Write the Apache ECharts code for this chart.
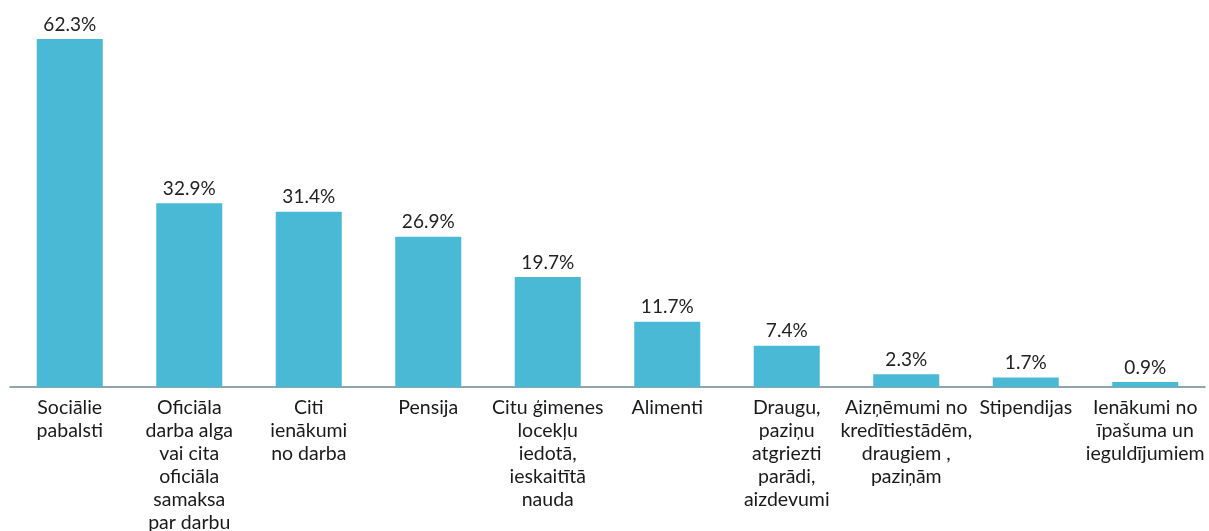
<!DOCTYPE html>
<html>
<head>
<meta charset="utf-8">
<style>
  html, body { margin: 0; padding: 0; background: #fff; }
  #chart { width: 1209px; height: 531px; }
</style>
<script src="https://cdn.jsdelivr.net/npm/echarts@6/dist/echarts.min.js"></script>
</head>
<body>
<div id="chart"></div>
<script>
const categories = [
  'Sociālie\npabalsti',
  'Oficiāla\ndarba alga\nvai cita\noficiāla\nsamaksa\npar darbu',
  'Citi\nienākumi\nno darba',
  'Pensija',
  'Citu ģimenes\nlocekļu\niedotā,\nieskaitītā\nnauda',
  'Alimenti',
  'Draugu,\npaziņu\natgriezti\nparādi,\naizdevumi',
  'Aizņēmumi no\nkredītiestādēm,\ndraugiem ,\npaziņām',
  'Stipendijas',
  'Ienākumi no\nīpašuma un\nieguldījumiem'
]
const values = [62.3, 32.9, 31.4, 26.9, 19.7, 11.7, 7.4, 2.3, 1.7, 0.9]

const chart = echarts.init(document.getElementById('chart'))
chart.setOption({
  animation: false,
  textStyle: { fontFamily: 'Lato, "Open Sans", sans-serif' },
  grid: {
    left: 10, right: 4, top: 24, bottom: 144,
    containLabel: false,
    outerBoundsMode: 'none'
  },
  xAxis: {
    type: 'category',
    data: categories,
    axisLine: { show: true, lineStyle: { color: '#6b8893', width: 1.5 } },
    axisTick: { show: false },
    axisLabel: {
      interval: 0,
      margin: 9,
      color: '#1a1a1a',
      fontSize: 19.5,
      lineHeight: 23,
      align: 'center',
      verticalAlign: 'top'
    }
  },
  yAxis: {
    type: 'value',
    min: 0,
    max: 65,
    show: false,
    splitLine: { show: false }
  },
  series: [
    {
      type: 'bar',
      data: values,
      barWidth: 66,
      itemStyle: { color: '#4ab9d5' },
      label: {
        show: true,
        position: 'top',
        distance: 5,
        color: '#222',
        fontSize: 19,
        formatter: (p) => p.value.toFixed(1) + '%'
      }
    }
  ]
})
</script>
</body>
</html>
